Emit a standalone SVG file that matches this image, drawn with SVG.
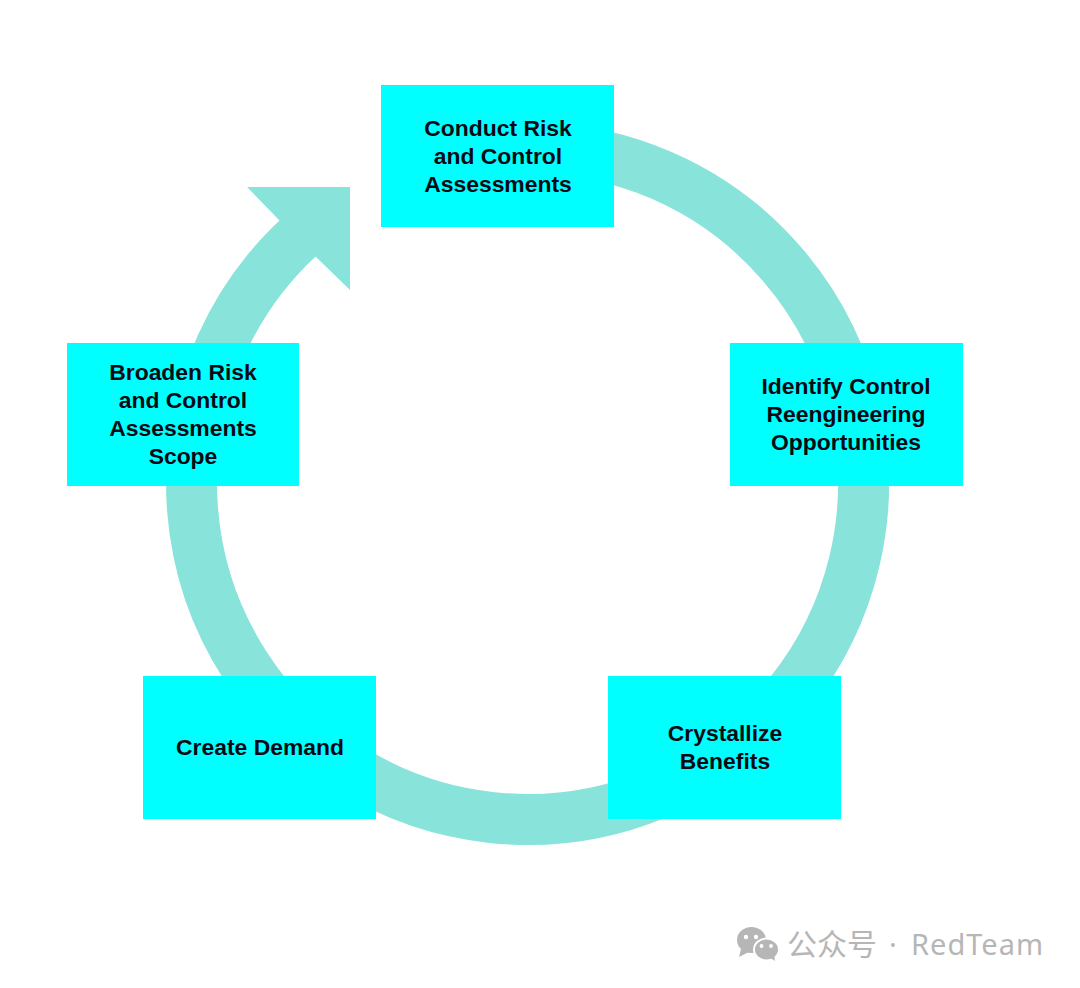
<svg xmlns="http://www.w3.org/2000/svg" width="1080" height="988" viewBox="0 0 1080 988">
<style>
.box{fill:#00ffff}
.lbl{font:bold 22.9px "Liberation Sans",Arial,sans-serif;fill:#0a0a14;text-anchor:middle}
.ring{fill:none;stroke:#88e3db;stroke-width:51}
.head{fill:#88e3db}
.wm{fill:#b6b6b6}
.wmt{font-family:"Noto Sans","Noto Sans CJK SC",sans-serif;font-size:29px;fill:#b6b6b6}
</style>
<rect width="1080" height="988" fill="#ffffff"/>
<g id="connectors">
<path class="ring" d="M310 227.4 A336 336 0 1 0 500 148.6"/>
<polygon class="head" points="247,187 350,187 350,290 315,256 279,220"/>
</g>
<g id="node-conduct"><rect class="box" x="381" y="85" width="233" height="142"/>
<text class="lbl" x="498" y="136">Conduct Risk</text><text class="lbl" x="498" y="164">and Control</text><text class="lbl" x="498" y="192">Assessments</text></g>
<g id="node-identify"><rect class="box" x="730" y="343" width="233" height="143"/>
<text class="lbl" x="846" y="394">Identify Control</text><text class="lbl" x="846" y="422">Reengineering</text><text class="lbl" x="846" y="450">Opportunities</text></g>
<g id="node-crystallize"><rect class="box" x="608" y="676" width="233" height="143"/>
<text class="lbl" x="725" y="741">Crystallize</text><text class="lbl" x="725" y="769">Benefits</text></g>
<g id="node-create"><rect class="box" x="143" y="676" width="233" height="143"/>
<text class="lbl" x="260" y="755">Create Demand</text></g>
<g id="node-broaden"><rect class="box" x="67" y="343" width="232" height="143"/>
<text class="lbl" x="183" y="380">Broaden Risk</text><text class="lbl" x="183" y="408">and Control</text><text class="lbl" x="183" y="436">Assessments</text><text class="lbl" x="183" y="464">Scope</text></g>
<g id="watermark">
<ellipse class="wm" cx="751.5" cy="940" rx="14.5" ry="13"/>
<polygon class="wm" points="741,949 739,957 749,952"/>
<ellipse cx="766.5" cy="949.5" rx="13.5" ry="12" fill="#ffffff"/>
<ellipse class="wm" cx="766.5" cy="949.5" rx="11.5" ry="10"/>
<polygon class="wm" points="769,957 775,961 774,954"/>
<circle cx="746" cy="937" r="2.2" fill="#fff"/><circle cx="756" cy="937" r="2.2" fill="#fff"/>
<circle cx="761.5" cy="946" r="1.9" fill="#fff"/><circle cx="771" cy="946" r="1.9" fill="#fff"/>
<text class="wmt" x="787" y="955" style="font-size:30px">公众号</text>
<text class="wmt" x="889" y="955">·</text>
<text class="wmt" x="911" y="955" letter-spacing="1">RedTeam</text>
</g>
</svg>
